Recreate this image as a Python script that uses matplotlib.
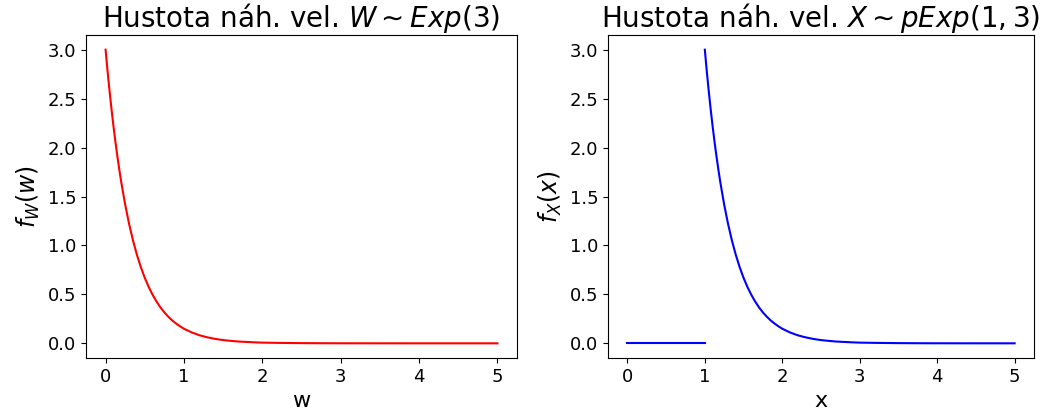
import matplotlib.pyplot as plt

# hustota Exp(3), hodnoty
w_vals = [0.0, 0.025, 0.05, 0.075, 0.1, 0.125, 0.15, 0.175, 0.2, 0.25, 0.3, 0.35,
          0.4, 0.45, 0.5, 0.55, 0.6, 0.65, 0.7, 0.75, 0.8, 0.85, 0.9, 0.95, 1.0,
          1.1, 1.2, 1.3, 1.4, 1.5, 1.6, 1.7, 1.8, 1.9, 2.0,
          2.25, 2.5, 2.75, 3.0, 3.5, 4.0, 4.5, 5.0]
fw_vals = [3.0, 2.783, 2.582, 2.396, 2.222, 2.062, 1.913, 1.775, 1.646, 1.417, 1.22, 1.05,
           0.904, 0.778, 0.669, 0.576, 0.496, 0.427, 0.367, 0.316, 0.272, 0.234, 0.202, 0.174, 0.149,
           0.111, 0.082, 0.061, 0.045, 0.033, 0.025, 0.018, 0.014, 0.010, 0.007,
           0.004, 0.002, 0.001, 0.0004, 0.0001, 0.0, 0.0, 0.0]

# posunuté Exp: nula na [0, 1], pak stejný tvar od 1
x_zero = [0.0, 1.0]
fx_zero = [0.0, 0.0]
x_vals = [w + 1 for w in w_vals if w <= 4.0]
fx_vals = fw_vals[:len(x_vals)]

W, H = 1054, 418
fig = plt.figure(figsize=(W / 100, H / 100), dpi=100)

ax1 = fig.add_axes([86 / W, 60 / H, 431 / W, 323 / H])
ax2 = fig.add_axes([608 / W, 60 / H, 426 / W, 323 / H])

ax1.plot(w_vals, fw_vals, color='r', lw=1.5)
ax1.set_title(r"Hustota náh. vel. $W \sim Exp(3)$", fontsize=20)
ax1.set_xlabel("w", fontsize=16)
ax1.set_ylabel(r"$f_W(w)$", fontsize=17)

ax2.plot(x_zero, fx_zero, color='b', lw=1.5)
ax2.plot(x_vals, fx_vals, color='b', lw=1.5)
ax2.set_title(r"Hustota náh. vel. $X \sim pExp(1,3)$", fontsize=20)
ax2.set_xlabel("x", fontsize=16)
ax2.set_ylabel(r"$f_X(x)$", fontsize=17)

for ax in (ax1, ax2):
    ax.set_xticks([0, 1, 2, 3, 4, 5])
    ax.set_yticks([0.0, 0.5, 1.0, 1.5, 2.0, 2.5, 3.0])
    ax.set_yticklabels(["0.0", "0.5", "1.0", "1.5", "2.0", "2.5", "3.0"])
    ax.tick_params(labelsize=13)

fig.savefig("out.png", dpi=100)
